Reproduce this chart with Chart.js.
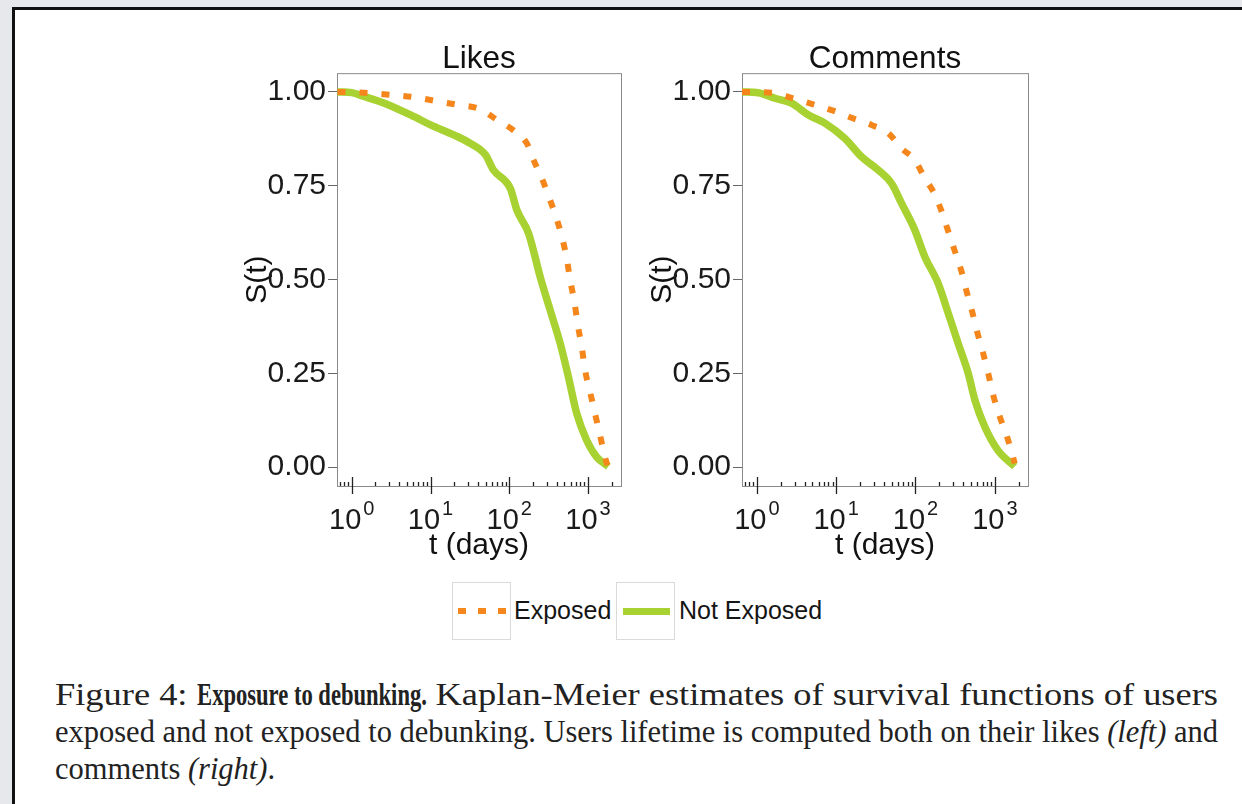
<!DOCTYPE html>
<html>
<head>
<meta charset="utf-8">
<script src="https://cdn.jsdelivr.net/npm/chart.js@4"></script>
<style>
  body { margin: 0; width: 1242px; height: 804px; overflow: hidden; position: relative;
         background: #e7e8eb; font-family: "Liberation Sans", Arial, sans-serif; }
  #folha { position: absolute; left: 12px; top: 7px; width: 1300px; height: 900px; background: #fff;
           border-left: 3px solid #111; border-top: 3px solid #111; }
  canvas { position: absolute; top: 35px; }
  .chave { position: absolute; top: 582px; width: 59px; height: 58px; box-sizing: border-box;
           border: 1px solid #dadada; background: #fff; }
  .tracos { position: absolute; left: 5px; top: 25px; width: 50px; height: 6px;
            background: repeating-linear-gradient(90deg, #f4871e 0 8px, transparent 8px 20px); }
  .linha { position: absolute; left: 6px; top: 25px; width: 47px; height: 7px; background: #a8d132; }
  .rotulo { position: absolute; top: 595px; font-size: 25px; line-height: 30px; color: #151515; white-space: nowrap; }
  #legenda-texto { position: absolute; left: 55px; top: 676px; width: 1163px;
                   font-family: "Liberation Serif", "Times New Roman", serif; font-size: 31px;
                   line-height: 37px; color: #222; }
  #legenda-texto span.l { display: block; white-space: nowrap; transform-origin: 0 0; }
  #legenda-texto b { display: inline-block; transform-origin: 0 0; }
</style>
</head>
<body>
<div id="folha"></div>
<canvas id="likes" width="410" height="535" style="left:225px"></canvas>
<canvas id="comments" width="412" height="535" style="left:630px"></canvas>

<div id="legenda">
  <div class="chave" style="left:452px"><div class="tracos"></div></div>
  <span class="rotulo" style="left:514px">Exposed</span>
  <div class="chave" style="left:616px"><div class="linha"></div></div>
  <span class="rotulo" style="left:679px">Not Exposed</span>
</div>

<div id="legenda-texto">
  <span class="l" data-fit="1">Figure 4: <b>Exposure to debunking.</b> Kaplan-Meier estimates of survival functions of users</span>
  <span class="l" data-fit="1">exposed and not exposed to debunking. Users lifetime is computed both on their likes <i>(left)</i> and</span>
  <span class="l">comments <i>(right)</i>.</span>
</div>

<script>
// Likes - S(t)
const tLikesExposed = [0.66, 1.43, 3.1, 6.2, 12.2, 23, 43, 70, 111, 167, 203, 259, 324, 393, 465, 537, 592, 671, 741, 832, 916, 1060, 1226, 1420, 1641, 1760];
const sLikesExposed = [1.000, 0.998, 0.992, 0.986, 0.975, 0.965, 0.954, 0.925, 0.899, 0.863, 0.819, 0.770, 0.716, 0.667, 0.614, 0.556, 0.499, 0.441, 0.379, 0.321, 0.259, 0.201, 0.143, 0.085, 0.027, 0.005];
const tLikesNot = [0.66, 1.0, 1.43, 2.6, 6.2, 10, 20, 32, 50, 63, 103, 125, 176, 247, 330, 443, 563, 719, 960, 1290, 1810];
const sLikesNot = [1.000, 0.998, 0.988, 0.970, 0.934, 0.912, 0.885, 0.863, 0.832, 0.792, 0.743, 0.685, 0.623, 0.507, 0.419, 0.330, 0.241, 0.143, 0.072, 0.027, 0.002];

// Comments
const tCommentsExposed = [0.65, 1.53, 2.87, 5.1, 9.2, 15.6, 27.9, 46, 67, 98, 131, 172, 214, 259, 314, 381, 441, 519, 607, 714, 826, 955, 1159, 1406, 1700, 1780];
const sCommentsExposed = [1.000, 0.998, 0.983, 0.967, 0.950, 0.931, 0.912, 0.889, 0.849, 0.819, 0.770, 0.730, 0.681, 0.628, 0.575, 0.521, 0.468, 0.414, 0.356, 0.303, 0.250, 0.192, 0.134, 0.085, 0.027, 0.010];
const tCommentsNot = [0.65, 1.04, 1.69, 2.74, 4.43, 7.2, 12.9, 20.9, 33.9, 50, 66.8, 98, 131, 193, 259, 345, 462, 561, 750, 1095, 1780];
const sCommentsNot = [1.000, 0.998, 0.983, 0.970, 0.939, 0.917, 0.876, 0.827, 0.792, 0.756, 0.703, 0.632, 0.561, 0.490, 0.410, 0.330, 0.250, 0.179, 0.107, 0.045, 0.002];

const xMajor = [1, 10, 100, 1000];
const xTickExp = ['0', '1', '2', '3'];
const xMinor = [0.7, 0.8, 0.9, 2, 3, 4, 5, 6, 7, 8, 9, 20, 30, 40, 50, 60, 70, 80, 90,
                200, 300, 400, 500, 600, 700, 800, 900, 2000];
const yTicks = [0, 0.25, 0.5, 0.75, 1];

const fonte = '"Liberation Sans", Arial, sans-serif';
const corExposed = '#f5861c';
const corNot = '#a8d132';

function pontos(ts, ss) {
  return ts.map((t, i) => ({ x: t, y: ss[i] }));
}

// caixa do painel + log ticks + rótulos 10^k
const eixoLog = {
  id: 'eixoLog',
  beforeDatasetsDraw(chart) {
    const { ctx, chartArea: a } = chart;
    ctx.save();
    ctx.strokeStyle = '#8a8a8a';
    ctx.lineWidth = 1;
    ctx.strokeRect(a.left + 0.5, a.top + 0.5, a.right - a.left, a.bottom - a.top);
    ctx.restore();
  },
  afterDraw(chart) {
    const { ctx, chartArea: a, scales: { x } } = chart;
    ctx.save();
    ctx.strokeStyle = '#222';
    ctx.lineWidth = 1.3;
    ctx.beginPath();
    xMinor.forEach(v => {
      const px = Math.round(x.getPixelForValue(v)) + 0.5;
      ctx.moveTo(px, a.bottom);
      ctx.lineTo(px, a.bottom - 4);
    });
    xMajor.forEach(v => {
      const px = Math.round(x.getPixelForValue(v)) + 0.5;
      ctx.moveTo(px, a.bottom - 9);
      ctx.lineTo(px, a.bottom + 8);
    });
    ctx.stroke();

    ctx.fillStyle = '#1a1a1a';
    ctx.textBaseline = 'alphabetic';
    ctx.textAlign = 'left';
    xMajor.forEach((v, i) => {
      ctx.font = '29px ' + fonte;
      const w1 = ctx.measureText('10').width;
      ctx.font = '20px ' + fonte;
      const w2 = ctx.measureText(xTickExp[i]).width;
      const esq = x.getPixelForValue(v) - (w1 + 2 + w2) / 2;
      ctx.font = '29px ' + fonte;
      ctx.fillText('10', esq, a.bottom + 43);
      ctx.font = '20px ' + fonte;
      ctx.fillText(xTickExp[i], esq + w1 + 2, a.bottom + 29);
    });
    ctx.restore();
  }
};

function desenharPainel(id, titulo, tExp, sExp, tNot, sNot) {
  return new Chart(document.getElementById(id), {
    type: 'line',
    data: {
      datasets: [
        {
          label: 'Exposed',
          data: pontos(tExp, sExp),
          borderColor: corExposed,
          borderWidth: 6,
          borderDash: [8, 14],
          pointRadius: 0,
          cubicInterpolationMode: 'monotone'
        },
        {
          label: 'Not Exposed',
          data: pontos(tNot, sNot),
          borderColor: corNot,
          borderWidth: 7.5,
          pointRadius: 0,
          cubicInterpolationMode: 'monotone'
        }
      ]
    },
    options: {
      responsive: false,
      animation: false,
      devicePixelRatio: 1,
      layout: { padding: { left: 0, right: 14, top: 0, bottom: 0 } },
      plugins: {
        legend: { display: false },
        tooltip: { enabled: false },
        title: {
          display: true,
          fullSize: false,
          text: titulo,
          color: '#111',
          font: { family: fonte, size: 31.5, weight: 'normal', lineHeight: 0.9 },
          padding: { top: 9.8, bottom: 0 }
        }
      },
      scales: {
        x: {
          type: 'logarithmic',
          min: 0.65,
          max: 2620,
          afterBuildTicks: s => { s.ticks = xMajor.map(v => ({ value: v })); },
          afterFit: s => { s.height = 84; },
          ticks: { display: false },
          grid: { display: false },
          border: { display: false },
          title: {
            display: true,
            text: 't (days)',
            color: '#111',
            font: { family: fonte, size: 30 },
            padding: { top: 0, bottom: 6 }
          }
        },
        y: {
          min: -0.05,
          max: 1.05,
          afterBuildTicks: s => { s.ticks = yTicks.map(v => ({ value: v })); },
          afterFit: s => { s.width = 112; },
          ticks: {
            callback: v => Number(v).toFixed(2),
            color: '#1a1a1a',
            font: { family: fonte, size: 30 },
            padding: 2
          },
          grid: { drawOnChartArea: false, drawTicks: true, tickLength: 9, color: '#666' },
          border: { display: false },
          title: {
            display: true,
            text: 'S(t)',
            color: '#111',
            font: { family: fonte, size: 30 },
            padding: { top: 15, bottom: 0 }
          }
        }
      }
    },
    plugins: [eixoLog]
  });
}

desenharPainel('likes', 'Likes', tLikesExposed, sLikesExposed, tLikesNot, sLikesNot);
desenharPainel('comments', 'Comments', tCommentsExposed, sCommentsExposed, tCommentsNot, sCommentsNot);

// texto da figura: negrito estreito, cada linha cheia ajustada à largura
const largura = 1163;
const negrito = document.querySelector('#legenda-texto b');
const fatorNegrito = 0.62;
const wb = negrito.getBoundingClientRect().width;
negrito.style.transform = `scaleX(${fatorNegrito})`;
negrito.style.marginRight = (-(1 - fatorNegrito) * wb) + 'px';

let escala = 1;
document.querySelectorAll('#legenda-texto span.l').forEach(l => {
  l.style.display = 'inline-block';
  const w = l.getBoundingClientRect().width;
  l.style.display = 'block';
  if (l.dataset.fit) escala = largura / w;
  l.style.transform = `scaleX(${escala})`;
});
</script>
</body>
</html>
